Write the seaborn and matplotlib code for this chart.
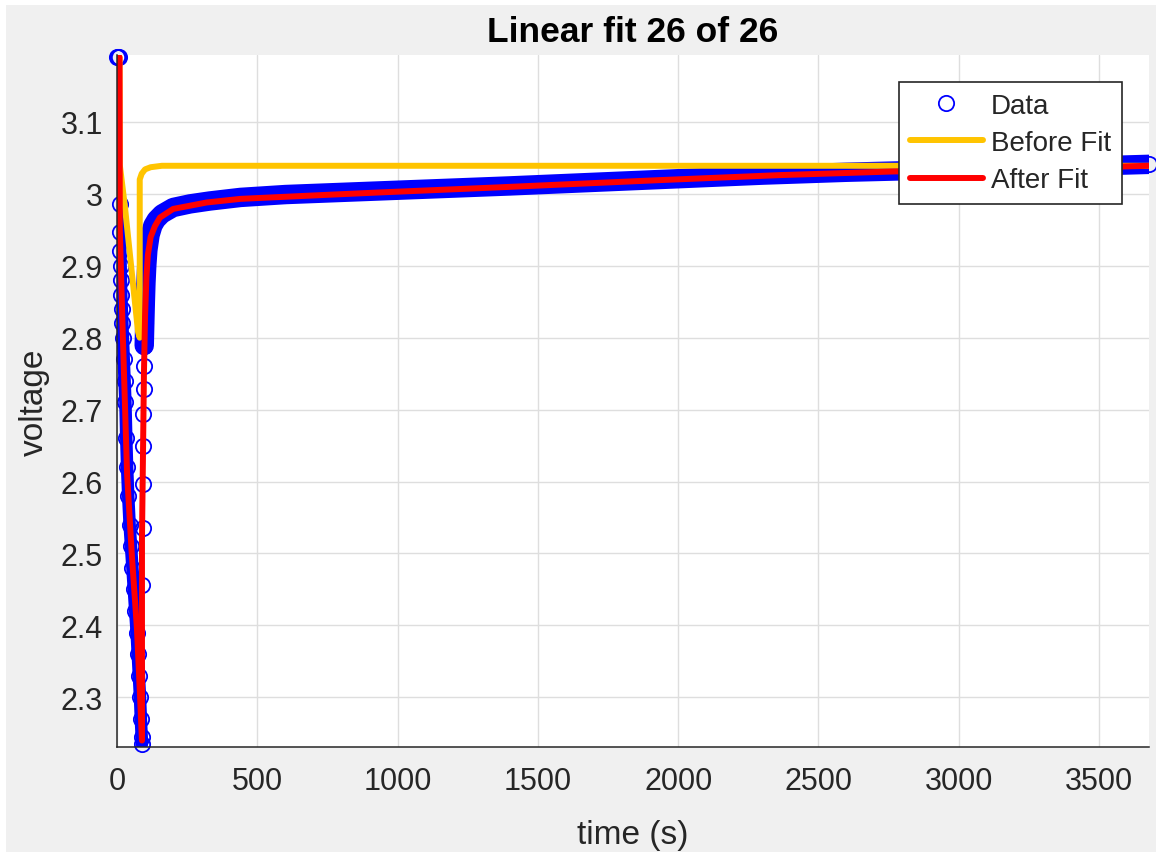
import numpy as np
import pandas as pd
import seaborn as sns
import matplotlib.pyplot as plt
from matplotlib.lines import Line2D
from matplotlib.patches import Rectangle

data_t = [0, 4, 8, 10, 11, 12, 13, 14, 15, 17, 19, 21, 24, 27, 30, 33, 36, 40, 45, 50,
          55, 60, 65, 70, 74, 78, 82, 85, 88, 89, 90, 91, 92, 93, 94, 95, 96, 97, 99,
          101, 103, 106, 110, 118, 128, 140, 160, 200, 260, 330, 440, 600, 800, 1000,
          1200, 1400, 1700, 2000, 2300, 2600, 2900, 3200, 3500, 3678]
data_v = [3.19, 3.19, 3.19, 2.986, 2.947, 2.92, 2.90, 2.88, 2.86, 2.84, 2.82, 2.80, 2.77,
          2.74, 2.71, 2.66, 2.62, 2.58, 2.54, 2.51, 2.48, 2.45, 2.42, 2.39, 2.36, 2.33,
          2.30, 2.27, 2.245, 2.235, 2.456, 2.535, 2.597, 2.65, 2.694, 2.729, 2.761, 2.789,
          2.82, 2.85, 2.875, 2.90, 2.922, 2.943, 2.956, 2.964, 2.972, 2.981, 2.986, 2.990,
          2.995, 2.999, 3.002, 3.005, 3.008, 3.011, 3.016, 3.021, 3.026, 3.030, 3.033,
          3.036, 3.039, 3.041]

# model before fitting
guess_t = [0, 9, 10, 28, 75, 81, 81, 88, 100, 120, 160, 3678]
guess_v = [3.19, 3.19, 3.04, 2.983, 2.808, 2.80, 3.02, 3.028, 3.034, 3.037, 3.039, 3.039]

# model after fitting
fit_t = [0, 9, 10, 21, 36, 53, 71, 82, 89, 89, 93, 96, 100, 105, 110, 120, 135, 153, 200,
         320, 440, 770, 940, 1360, 1930, 2360, 2760, 3200, 3580, 3678]
fit_v = [3.19, 3.19, 2.95, 2.80, 2.61, 2.497, 2.396, 2.303, 2.24, 2.52, 2.65, 2.75, 2.83,
         2.885, 2.915, 2.94, 2.955, 2.967, 2.979, 2.988, 2.993, 2.999, 3.002, 3.009, 3.019,
         3.026, 3.031, 3.035, 3.038, 3.039]

x_ticks = [0, 500, 1000, 1500, 2000, 2500, 3000, 3500]
y_ticks = [2.3, 2.4, 2.5, 2.6, 2.7, 2.8, 2.9, 3.0, 3.1]
y_tick_labels = ['2.3', '2.4', '2.5', '2.6', '2.7', '2.8', '2.9', '3', '3.1']

sns.set_style('white')
plt.rcParams['font.family'] = ['Liberation Sans', 'DejaVu Sans']
plt.rcParams['path.simplify'] = False

dark = '#262626'
yellow = '#ffc400'

fig = plt.figure(figsize=(11.56, 8.53), dpi=100, facecolor='#f0f0f0')
fig.add_artist(Rectangle((0, 0), 6 / 1156, 1, transform=fig.transFigure,
                         facecolor='white', edgecolor='none', zorder=-1))
fig.add_artist(Rectangle((0, 1 - 6 / 853), 1, 6 / 853, transform=fig.transFigure,
                         facecolor='white', edgecolor='none', zorder=-1))
ax = fig.add_axes([117 / 1156, 105 / 853, 1032 / 1156, 692 / 853])

df = pd.DataFrame({'t': data_t, 'v': data_v})
pulse = df[(df['t'] >= 10) & (df['t'] <= 89)]
relax = df[df['t'] >= 97]

fit = pd.DataFrame({'t': fit_t, 'v': fit_v})
guess = pd.DataFrame({'t': guess_t, 'v': guess_v})

# the measurement is so dense that its circles merge into a band
sns.lineplot(data=pulse, x='t', y='v', color='blue', linewidth=9, sort=False,
             estimator=None, ax=ax)
sns.lineplot(data=relax, x='t', y='v', color='blue', linewidth=14, sort=False,
             estimator=None, ax=ax)
sns.lineplot(data=df, x='t', y='v', marker='o', linestyle='none', markersize=11,
             markerfacecolor='none', markeredgecolor='blue', markeredgewidth=1.3,
             color='blue', sort=False, estimator=None, clip_on=False, ax=ax)

sns.lineplot(data=guess, x='t', y='v', color=yellow, linewidth=4.3, sort=False,
             estimator=None, ax=ax)
sns.lineplot(data=fit, x='t', y='v', color='red', linewidth=4.3, sort=False,
             estimator=None, ax=ax)

ax.set_xlim(0, 3678)
ax.set_ylim(2.231, 3.193)
ax.set_xticks(x_ticks)
ax.set_yticks(y_ticks)
ax.set_yticklabels(y_tick_labels)
ax.grid(True, color='#dedede', linewidth=1)
ax.set_axisbelow(True)
for side in ['top', 'right']:
    ax.spines[side].set_visible(False)
for side in ['left', 'bottom']:
    ax.spines[side].set_color(dark)
    ax.spines[side].set_linewidth(1.1)
ax.tick_params(direction='in', length=6, width=1, colors=dark, labelsize=22)
ax.tick_params(axis='x', pad=14)
ax.tick_params(axis='y', pad=10)

ax.set_xlabel('time (s)', fontsize=24, color=dark, labelpad=16)
ax.set_ylabel('voltage', fontsize=24, color=dark, labelpad=8)
ax.set_title('Linear fit 26 of 26', fontsize=25.5, fontweight='bold', color='black', pad=10)

handles = [Line2D([], [], marker='o', linestyle='none', markerfacecolor='none',
                  markeredgecolor='blue', markeredgewidth=1.3, markersize=11),
           Line2D([], [], color=yellow, linewidth=4.3),
           Line2D([], [], color='red', linewidth=4.3)]
leg = ax.legend(handles, ['Data', 'Before Fit', 'After Fit'], loc='upper right',
                bbox_to_anchor=(0.974, 0.961), borderaxespad=0, fontsize=20,
                frameon=True, fancybox=False, framealpha=1, edgecolor=dark,
                borderpad=0.4, labelspacing=0.4, handlelength=2.6, handletextpad=0.3)
leg.get_frame().set_linewidth(1.2)
for txt in leg.get_texts():
    txt.set_color(dark)

fig.savefig('out.png', dpi=100, facecolor=fig.get_facecolor())
